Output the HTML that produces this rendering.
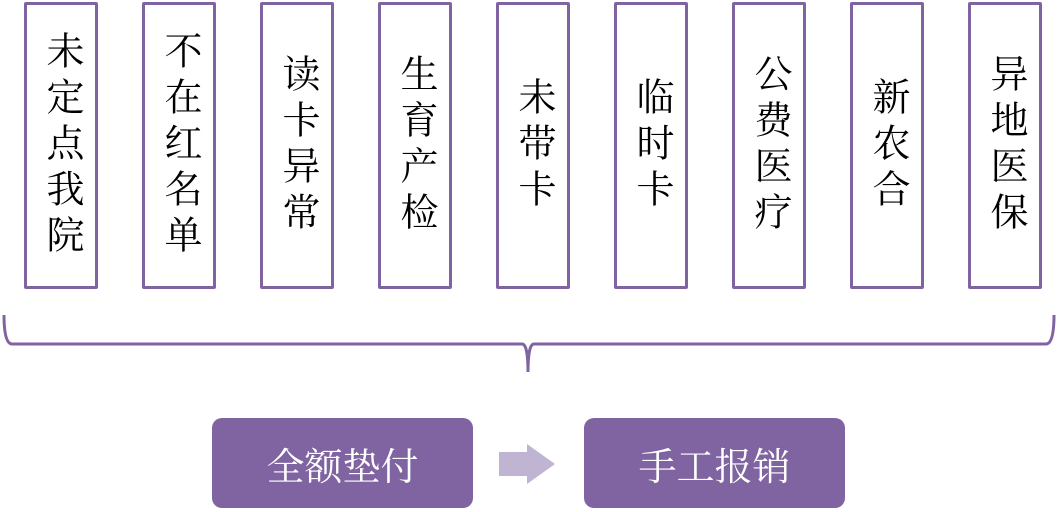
<!DOCTYPE html>
<html><head><meta charset="utf-8"><style>
body{margin:0;width:1057px;height:512px;background:#fff;position:relative;overflow:hidden;font-family:"Liberation Serif","Noto Serif CJK SC",serif;}
.b{position:absolute;top:2px;width:68px;height:281px;border:3px solid #8064a2;border-radius:2px;display:flex;align-items:center;justify-content:center;}
.b span{writing-mode:vertical-rl;font-size:38px;line-height:46px;letter-spacing:8px;color:#000;}
.btn{position:absolute;top:418px;height:90px;width:261px;background:#8064a2;border-radius:10px;color:#fff;font-size:38px;display:flex;align-items:center;justify-content:center;}
</style></head><body>
<div class="b" style="left:24px"><span>未定点我院</span></div>
<div class="b" style="left:142px"><span>不在红名单</span></div>
<div class="b" style="left:260px"><span>读卡异常</span></div>
<div class="b" style="left:378px"><span>生育产检</span></div>
<div class="b" style="left:496px"><span>未带卡</span></div>
<div class="b" style="left:614px"><span>临时卡</span></div>
<div class="b" style="left:732px"><span>公费医疗</span></div>
<div class="b" style="left:850px"><span>新农合</span></div>
<div class="b" style="left:968px"><span>异地医保</span></div>
<svg style="position:absolute;left:0;top:0" width="1057" height="512">
<path d="M4 315 Q4 344 12 344 L522 344 Q528 344 528 372 Q528 344 534 344 L1046 344 Q1054 344 1054 315" fill="none" stroke="#8064a2" stroke-width="3"/>
<polygon points="499,452 527,452 527,444 555,464 527,484 527,476 499,476" fill="#c0b4d3"/>
</svg>
<div class="btn" style="left:212px">全额垫付</div>
<div class="btn" style="left:584px">手工报销</div>
</body></html>
